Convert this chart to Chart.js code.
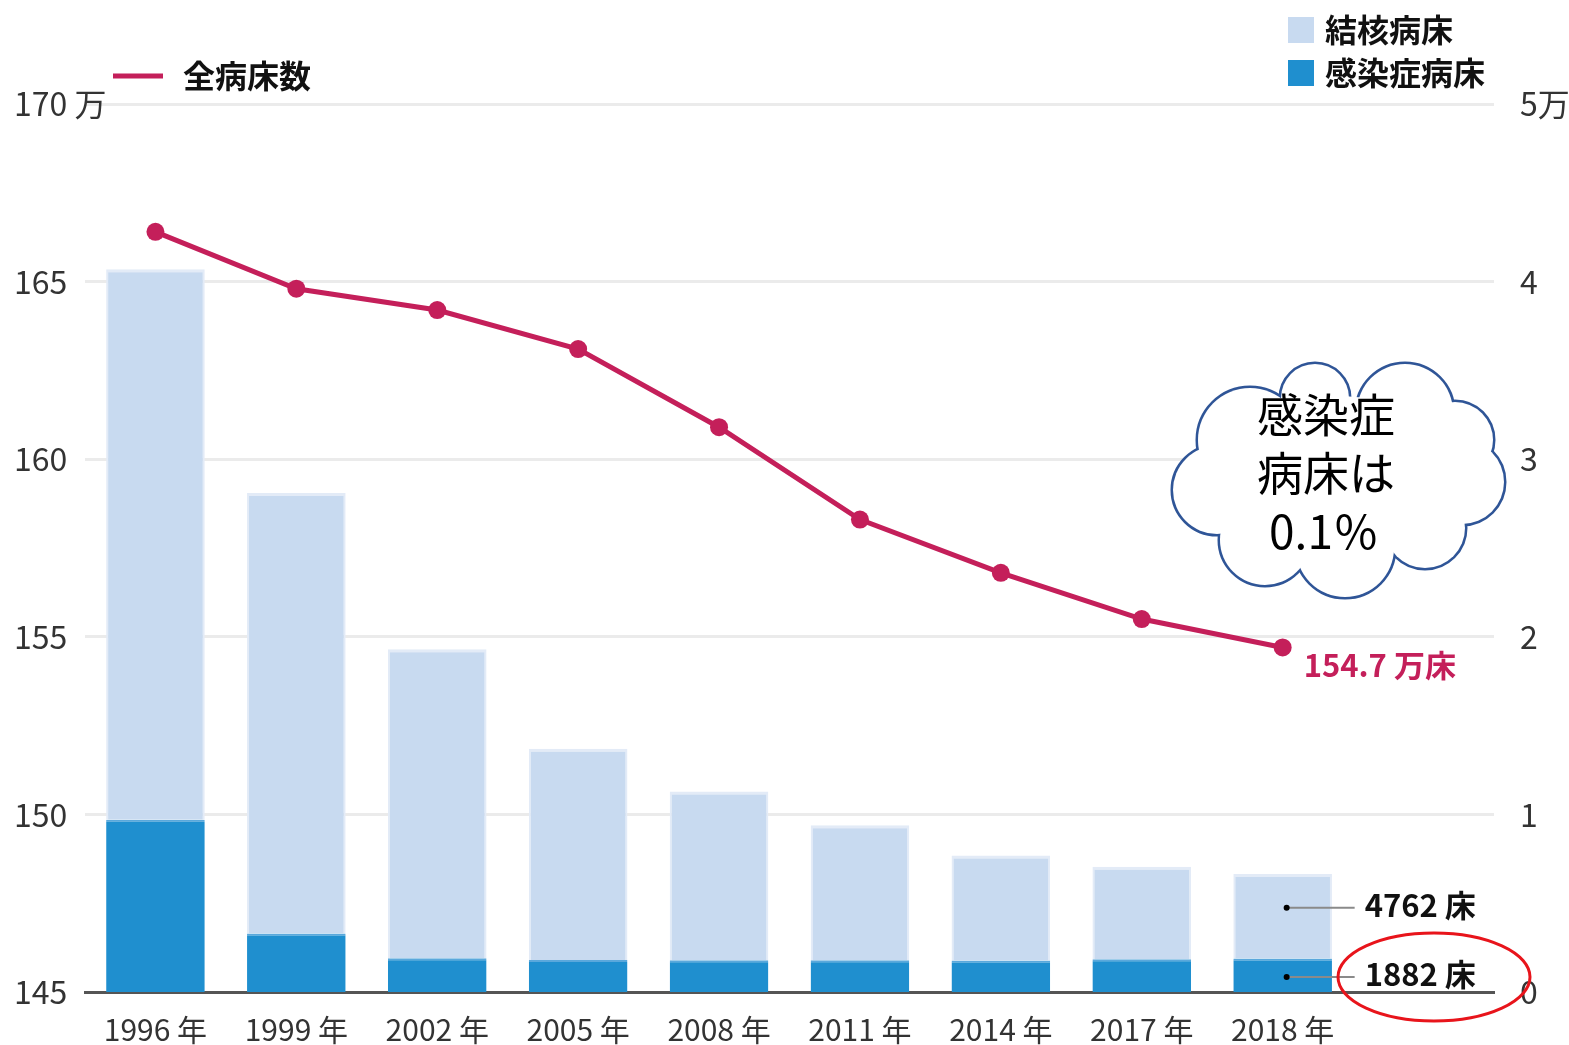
<!DOCTYPE html>
<html><head><meta charset="utf-8">
<script src="https://cdn.jsdelivr.net/npm/chart.js@4.4.1/dist/chart.umd.min.js"></script>
<style>html,body{margin:0;padding:0;background:#fff;} #c{display:block;}</style>
</head><body>
<canvas id="c" width="1569" height="1045"></canvas>
<script>
// ---- data ----
const years = ['1996','1999','2002','2005','2008','2011','2014','2017','2018'];
const totalBeds = [166.4, 164.8, 164.2, 163.1, 160.9, 158.3, 156.8, 155.5, 154.7]; // 万床 (left axis)
const infectiousBeds = [9700, 3300, 1900, 1800, 1790, 1790, 1780, 1850, 1882];     // 感染症病床 (right axis)
const tuberculosisBeds = [31000, 24800, 17400, 11900, 9500, 7600, 5900, 5200, 4762]; // 結核病床 (right axis)
const leftTicks = [145, 150, 155, 160, 165, 170];
const rightTicks = [0, 10000, 20000, 30000, 40000, 50000];
const xLabels = years.map(y => y + ' 年').concat(['']);
const seriesNames = ['全病床数', '結核病床', '感染症病床'];
const cloudLines = ['感染症', '病床は', '0.1％'];

const CRIMSON = '#c41f5a';
const LIGHT = '#c8daf0';
const DARK = '#1f8fcf';
const TICKFONT = '"Liberation Sans Narrow", "Noto Sans CJK JP", sans-serif';
const CJK = '"Noto Sans CJK JP", "Noto Sans", sans-serif';

const overlay = {
  id: 'overlay',
  afterDraw(chart) {
    const ctx = chart.ctx;
    const x = chart.scales.x, y = chart.scales.y, y2 = chart.scales.y2;
    const last = years.length - 1;
    ctx.save();
    // --- legends ---
    ctx.strokeStyle = CRIMSON; ctx.lineWidth = 5;
    ctx.beginPath(); ctx.moveTo(113, 76); ctx.lineTo(163, 76); ctx.stroke();
    ctx.fillStyle = '#111'; ctx.font = 'bold 32px ' + CJK;
    ctx.textBaseline = 'middle'; ctx.textAlign = 'left';
    ctx.fillText(seriesNames[0], 183, 76);
    ctx.fillStyle = LIGHT; ctx.fillRect(1288, 17, 26, 26);
    ctx.fillStyle = DARK; ctx.fillRect(1288, 60, 26, 26);
    ctx.fillStyle = '#111';
    ctx.fillText(seriesNames[1], 1325, 30);
    ctx.fillText(seriesNames[2], 1325, 73);

    // --- last value label of line ---
    const px = x.getPixelForValue(last), py = y.getPixelForValue(totalBeds[last]);
    ctx.fillStyle = CRIMSON; ctx.font = 'bold 31px ' + CJK;
    ctx.fillText(totalBeds[last].toFixed(1) + ' 万床', px + 21, py + 18);

    // --- leader labels for 2018 bars ---
    const bx = x.getPixelForValue(last) + 4;
    const yTb = y2.getPixelForValue(infectiousBeds[last] + tuberculosisBeds[last] * 0.6);
    const yIn = y2.getPixelForValue(infectiousBeds[last] * 0.45);
    ctx.strokeStyle = '#8a8a8a'; ctx.lineWidth = 2;
    [[yTb, tuberculosisBeds[last]], [yIn, infectiousBeds[last]]].forEach(([yy, v]) => {
      ctx.beginPath(); ctx.moveTo(bx, yy); ctx.lineTo(bx + 68, yy); ctx.stroke();
      ctx.fillStyle = '#000';
      ctx.beginPath(); ctx.arc(bx, yy, 3, 0, Math.PI * 2); ctx.fill();
      ctx.fillStyle = '#111'; ctx.font = 'bold 31px ' + CJK;
      ctx.fillText(v + ' 床', bx + 78, yy - 3);
    });

    // --- red ellipse ---
    ctx.strokeStyle = '#e8141b'; ctx.lineWidth = 3;
    ctx.beginPath();
    ctx.ellipse(chart.chartArea.right - 60, y2.getPixelForValue(0) - 15, 96, 44, 0, 0, Math.PI * 2);
    ctx.stroke();

    // --- cloud callout ---
    const bumps = [
      [1250, 440, 52], [1315, 398, 34], [1405, 412, 48], [1455, 440, 38],
      [1462, 482, 42], [1425, 528, 40], [1345, 548, 49], [1265, 540, 45], [1217, 490, 44]
    ];
    ctx.strokeStyle = '#2f5597'; ctx.lineWidth = 5; ctx.fillStyle = '#fff';
    bumps.forEach(b => { ctx.beginPath(); ctx.arc(b[0], b[1], b[2], 0, Math.PI * 2); ctx.fill(); ctx.stroke(); });
    bumps.forEach(b => { ctx.beginPath(); ctx.arc(b[0], b[1], b[2], 0, Math.PI * 2); ctx.fill(); });
    ctx.beginPath(); ctx.ellipse(1337, 478, 125, 82, 0, 0, Math.PI * 2); ctx.fill();
    ctx.fillStyle = '#000'; ctx.font = '46px ' + CJK; ctx.textAlign = 'center';
    ctx.fillText(cloudLines[0], 1326, 415);
    ctx.fillText(cloudLines[1], 1326, 473);
    ctx.fillText(cloudLines[2], 1324, 532);
    ctx.restore();
  }
};

new Chart(document.getElementById('c'), {
  data: {
    labels: xLabels,
    datasets: [
      {
        type: 'line', label: seriesNames[0], data: totalBeds, yAxisID: 'y', order: 0,
        borderColor: CRIMSON, backgroundColor: CRIMSON, borderWidth: 5,
        pointRadius: 9, pointBorderWidth: 0, pointBackgroundColor: CRIMSON, tension: 0
      },
      {
        type: 'bar', label: seriesNames[2], data: infectiousBeds, yAxisID: 'y2', stack: 's', order: 1,
        backgroundColor: DARK, borderColor: '#5aa8dc', borderWidth: {top: 2, left: 0, right: 0, bottom: 0},
        barPercentage: 0.7, categoryPercentage: 1
      },
      {
        type: 'bar', label: seriesNames[1], data: tuberculosisBeds, yAxisID: 'y2', stack: 's', order: 2,
        backgroundColor: LIGHT, borderColor: '#e3ebf7', borderWidth: {top: 3, left: 2, right: 2, bottom: 0},
        barPercentage: 0.7, categoryPercentage: 1
      }
    ]
  },
  options: {
    responsive: false, animation: false,
    layout: { padding: { top: 104, left: 14, right: 0, bottom: 0 } },
    plugins: { legend: { display: false }, tooltip: { enabled: false } },
    scales: {
      x: {
        stacked: true,
        grid: { display: false, drawTicks: false },
        border: { display: true, color: '#555', width: 3 },
        ticks: { color: '#333', font: { family: TICKFONT, size: 30 }, padding: 20, maxRotation: 0, autoSkip: false },
        afterFit: s => { s.height = 53; }
      },
      y: {
        position: 'left', min: 145, max: 170,
        grid: { color: '#ebebeb', lineWidth: 3, drawTicks: false },
        border: { display: false },
        afterBuildTicks: s => { s.ticks = leftTicks.map(v => ({ value: v })); },
        ticks: {
          color: '#333', mirror: true, padding: -71,
          font: { family: TICKFONT, size: 32 },
          callback: v => (v === 170 ? '170 万' : String(v))
        },
        afterFit: s => { s.width = 71; }
      },
      y2: {
        position: 'right', min: 0, max: 50000, stacked: true,
        grid: { display: false, drawTicks: false },
        border: { display: false },
        afterBuildTicks: s => { s.ticks = rightTicks.map(v => ({ value: v })); },
        ticks: {
          color: '#333', padding: 26,
          font: { family: TICKFONT, size: 32 },
          callback: v => (v === 50000 ? '5万' : String(v / 10000))
        },
        afterFit: s => { s.width = 75; }
      }
    }
  },
  plugins: [overlay]
});
</script>
</body></html>
